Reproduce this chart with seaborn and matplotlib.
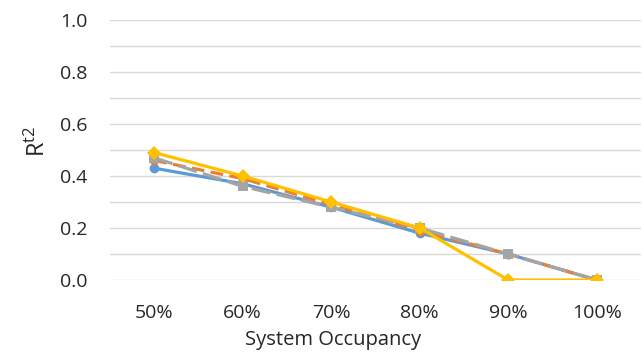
import matplotlib
matplotlib.use("Agg")
import matplotlib.pyplot as plt
import seaborn as sns
import pandas as pd

occupancy = ['50%', '60%', '70%', '80%', '90%', '100%']
series_names = ['s1', 's2', 's3', 's4']
s1 = [0.43, 0.37, 0.28, 0.18, 0.10, 0.0]
s2 = [0.46, 0.39, 0.29, 0.19, 0.10, 0.0]
s3 = [0.47, 0.36, 0.28, 0.20, 0.10, 0.0]
s4 = [0.49, 0.40, 0.30, 0.20, 0.0, 0.0]

colors = ['#5B9BD5', '#ED7D31', '#A5A5A5', '#FFC000']
markers = ['o', 'o', 's', 'D']
dashes = [(1, 0), (4, 2), (6, 2), (1, 0)]

rows = []
for name, vals in zip(series_names, [s1, s2, s3, s4]):
    for occ, v in zip(occupancy, vals):
        rows.append({'occ': occ, 'val': v, 'series': name})
data = pd.DataFrame(rows)

sns.set_style('white')
plt.rcParams['font.family'] = ['Open Sans', 'DejaVu Sans']

fig = plt.figure(figsize=(6.44, 3.56), dpi=100)
ax = fig.add_axes([110 / 644, 1 - 280 / 356, 531 / 644, 260 / 356])

sns.lineplot(
    data=data, x='occ', y='val', hue='series', style='series',
    palette=colors, markers=markers, dashes=dashes,
    linewidth=2.3, markersize=7, markeredgewidth=0,
    legend=False, ax=ax
)

ax.set_xlim(-0.5, 5.5)
ax.set_ylim(0, 1.0)
ax.set_yticks([0, 0.2, 0.4, 0.6, 0.8, 1.0])
ax.set_yticks([0.1, 0.3, 0.5, 0.7, 0.9], minor=True)
ax.set_yticklabels(['0.0', '0.2', '0.4', '0.6', '0.8', '1.0'])
ax.grid(True, axis='y', which='both', color='#D9D9D9', linewidth=1)
ax.set_axisbelow(True)
for sp in ax.spines.values():
    sp.set_visible(False)
ax.tick_params(axis='both', which='both', length=0, labelsize=14,
               labelcolor='#262626')
ax.tick_params(axis='y', pad=16)
ax.tick_params(axis='x', pad=17)

ax.set_xlabel('')
ax.set_ylabel('')
fig.text(333 / 644, 1 - 340 / 356, 'System Occupancy', ha='center',
         va='center', fontsize=14.5, color='#262626')
fig.text(38 / 644, 1 - 141 / 356, r'$\mathregular{R^{t2}}$', ha='center',
         va='center', rotation=90, fontsize=17, color='#262626')

fig.savefig('out.png', dpi=100)
plt.close(fig)
